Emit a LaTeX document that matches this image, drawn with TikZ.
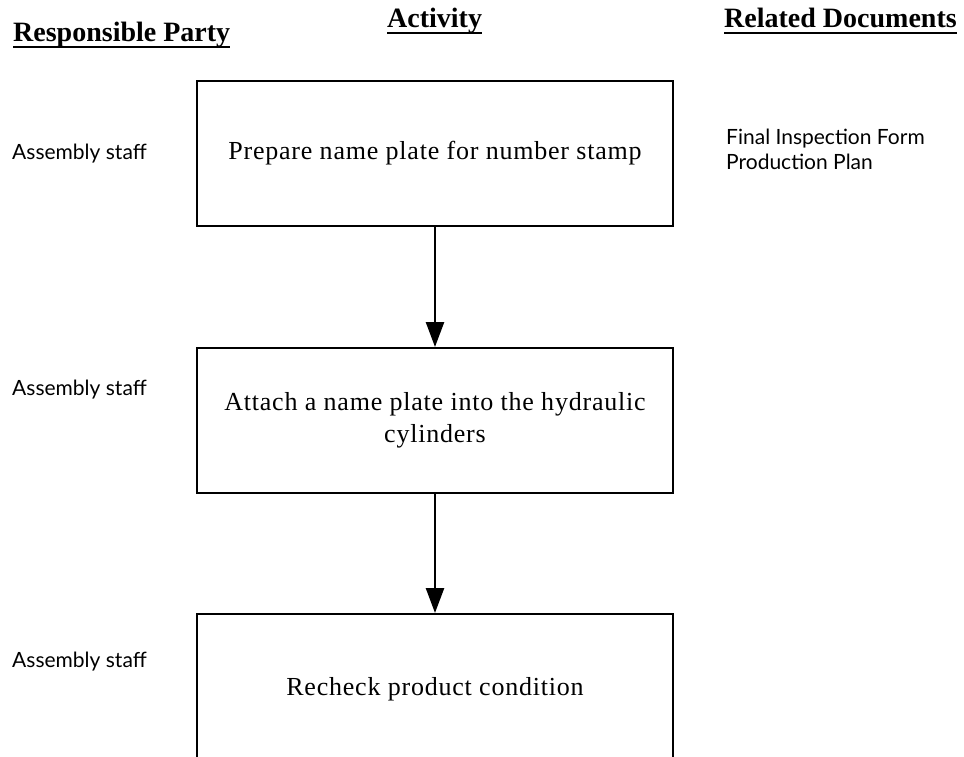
\documentclass[tikz,border=0pt]{standalone}
\usepackage{fontspec}
\setmainfont{Liberation Serif}
\newfontfamily\labelfont{Lato}
\newfontfamily\boxfont{Liberation Serif}[LetterSpace=3]
\usetikzlibrary{arrows.meta}
\begin{document}
\begin{tikzpicture}[x=1pt,y=-1pt,
  header/.style={inner sep=0pt, anchor=base west, font=\fontsize{28}{31}\selectfont\bfseries},
  rule/.style={line width=2.2pt},
  party/.style={inner sep=0pt, anchor=base west, font=\labelfont\fontsize{21}{25}\selectfont},
  docs/.style={inner sep=0pt, anchor=base west, align=left, font=\labelfont\fontsize{21}{25}\selectfont},
  stepbox/.style={draw, line width=2pt, anchor=north, minimum width=476pt, minimum height=145pt,
    inner sep=0pt, align=center, font=\boxfont\fontsize{26}{32}\selectfont},
  flow/.style={line width=2.5pt, -{Triangle[length=25pt,width=18pt]}}]

\useasboundingbox (0,0) rectangle (964,757);
\clip (0,0) rectangle (964,757);

% column headings, underlined
\node[header] (hparty) at (13,42) {Responsible Party};
\node[header] (hact)   at (387,28) {Activity};
\node[header] (hdocs)  at (724,28) {Related Documents};
\draw[rule] ([yshift=-5pt]hparty.base west) -- ([yshift=-5pt]hparty.base east);
\draw[rule] ([yshift=-5pt]hact.base west) -- ([yshift=-5pt]hact.base east);
\draw[rule] ([yshift=-5pt]hdocs.base west) -- ([yshift=-5pt]hdocs.base east);

% activity boxes
\node[stepbox] (s1) at (435,80)  {Prepare name plate for number stamp};
\node[stepbox] (s2) at (435,347) {Attach a name plate into the hydraulic\\cylinders};
\node[stepbox, minimum height=150pt] (s3) at (435,613) {Recheck product condition};

\draw[flow] (s1.south) -- (s2.north);
\draw[flow] (s2.south) -- (s3.north);

% responsible party
\node[party] (p1) at (12,160) {Assembly staff};
\node[party] (p2) at (12,395) {Assembly staff};
\node[party] (p3) at (12,667) {Assembly staff};

% related documents
\node[docs] (d1) at (726,170) {Final Inspection Form\\Production Plan};
\end{tikzpicture}
\end{document}
